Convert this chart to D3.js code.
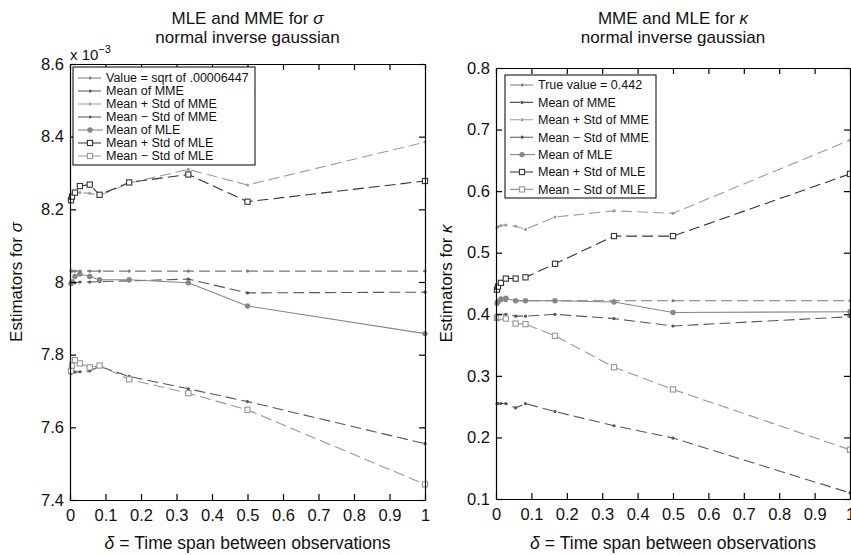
<!DOCTYPE html>
<html>
<head>
<meta charset="utf-8">
<script src="https://cdn.jsdelivr.net/npm/d3@7"></script>
<style>
body { margin: 0; background: #fff; }
svg { font-family: "Liberation Sans", Arial, sans-serif; }
</style>
</head>
<body>
<svg id="fig" width="851" height="555"></svg>
<script>
// time spans (in years, 360 day basis)
const deltas = [1/360, 2/360, 5/360, 10/360, 20/360, 30/360, 60/360, 120/360, 180/360, 1];
const xTicks = [0, 0.1, 0.2, 0.3, 0.4, 0.5, 0.6, 0.7, 0.8, 0.9, 1];

// sigma panel (values x 10^-3)
const sigmaTrue   = [8.03, 8.03, 8.03, 8.03, 8.03, 8.03, 8.03, 8.03, 8.03, 8.03];
const sigmaMME    = [7.995, 7.996, 7.998, 8.0, 8.0, 8.001, 8.003, 8.008, 7.970, 7.972];
const sigmaMMEup  = [8.228, 8.236, 8.244, 8.246, 8.244, 8.238, 8.272, 8.310, 8.267, 8.385];
const sigmaMMElo  = [7.748, 7.750, 7.752, 7.753, 7.755, 7.768, 7.740, 7.706, 7.671, 7.555];
const sigmaMLE    = [7.996, 8.0, 8.015, 8.022, 8.015, 8.006, 8.006, 7.998, 7.934, 7.858];
const sigmaMLEup  = [8.225, 8.235, 8.246, 8.264, 8.268, 8.240, 8.274, 8.296, 8.221, 8.278];
const sigmaMLElo  = [7.755, 7.770, 7.785, 7.776, 7.765, 7.770, 7.732, 7.694, 7.648, 7.443];
const sigmaTicks  = [7.4, 7.6, 7.8, 8, 8.2, 8.4, 8.6];

// kappa panel
const kappaTrue   = [0.422, 0.422, 0.422, 0.422, 0.422, 0.422, 0.422, 0.422, 0.422, 0.422];
const kappaMME    = [0.395, 0.396, 0.398, 0.400, 0.397, 0.397, 0.400, 0.393, 0.381, 0.396];
const kappaMMEup  = [0.541, 0.542, 0.544, 0.545, 0.543, 0.538, 0.558, 0.568, 0.564, 0.683];
const kappaMMElo  = [0.255, 0.255, 0.255, 0.255, 0.248, 0.255, 0.242, 0.219, 0.199, 0.110];
const kappaMLE    = [0.418, 0.420, 0.425, 0.426, 0.422, 0.422, 0.422, 0.420, 0.403, 0.404];
const kappaMLEup  = [0.440, 0.445, 0.451, 0.458, 0.458, 0.460, 0.482, 0.527, 0.527, 0.628];
const kappaMLElo  = [0.394, 0.396, 0.396, 0.393, 0.385, 0.384, 0.365, 0.314, 0.278, 0.180];
const kappaTicks  = [0.1, 0.2, 0.3, 0.4, 0.5, 0.6, 0.7, 0.8];

const sigmaLegend = ["Value = sqrt of .00006447", "Mean of MME", "Mean + Std of MME", "Mean \u2212 Std of MME",
                     "Mean of MLE", "Mean + Std of MLE", "Mean \u2212 Std of MLE"];
const kappaLegend = ["True value = 0.442", "Mean of MME", "Mean + Std of MME", "Mean \u2212 Std of MME",
                     "Mean of MLE", "Mean + Std of MLE", "Mean \u2212 Std of MLE"];

// line styles, same order as the legends
const styles = [
    {color: "#7a7a7a", dash: true,  mark: "dot"},
    {color: "#555555", dash: true,  mark: "dot"},
    {color: "#9c9c9c", dash: true,  mark: "dot"},
    {color: "#555555", dash: true,  mark: "dot"},
    {color: "#878787", dash: false, mark: "circle"},
    {color: "#333333", dash: true,  mark: "square"},
    {color: "#979797", dash: true,  mark: "square"}
];

const svg = d3.select("#fig");

function drawMarker(g, kind, color, cx, cy) {
    if (kind === "dot") {
        g.append("circle").attr("cx", cx).attr("cy", cy).attr("r", 1.6).attr("fill", color);
    } else if (kind === "circle") {
        g.append("circle").attr("cx", cx).attr("cy", cy).attr("r", 2.7).attr("fill", color);
    } else {
        g.append("rect").attr("x", cx - 2.6).attr("y", cy - 2.6).attr("width", 5.2).attr("height", 5.2)
            .attr("fill", "white").attr("stroke", color).attr("stroke-width", 1.1);
    }
}

function panel(cfg) {
    const x = d3.scaleLinear().domain([0, 1]).range([cfg.left, cfg.right]);
    const y = d3.scaleLinear().domain(cfg.yDomain).range([cfg.bottom, cfg.top]);
    const g = svg.append("g");

    const line = d3.line().x(d => x(d[0])).y(d => y(d[1]));

    cfg.series.forEach((vals, i) => {
        const st = styles[i];
        const pts = deltas.map((d, j) => [d, vals[j]]);
        g.append("path").datum(pts)
            .attr("d", line)
            .attr("fill", "none")
            .attr("stroke", st.color)
            .attr("stroke-width", 1.1)
            .attr("stroke-dasharray", st.dash ? "11,5" : null);
        const mg = g.append("g");
        pts.forEach(p => drawMarker(mg, st.mark, st.color, x(p[0]), y(p[1])));
    });

    // axes with inward ticks on all four sides
    const fmt = d3.format("~g");
    const axes = [
        {ax: d3.axisBottom(x).tickValues(xTicks).tickFormat(fmt).tickPadding(9), t: `translate(0,${cfg.bottom})`},
        {ax: d3.axisTop(x).tickValues(xTicks).tickFormat(""), t: `translate(0,${cfg.top})`},
        {ax: d3.axisLeft(y).tickValues(cfg.yTicks).tickFormat(fmt).tickPadding(6), t: `translate(${cfg.left},0)`},
        {ax: d3.axisRight(y).tickValues(cfg.yTicks).tickFormat(""), t: `translate(${cfg.right},0)`}
    ];
    axes.forEach(a => {
        const ag = g.append("g").attr("transform", a.t)
            .call(a.ax.tickSizeInner(-6).tickSizeOuter(0));
        ag.select(".domain").attr("stroke", "#000").attr("stroke-width", 1.2);
        ag.selectAll(".tick line").attr("stroke", "#000").attr("stroke-width", 1.2);
        ag.selectAll(".tick text").attr("font-size", 16.5).attr("fill", "#111")
            .attr("font-family", "Liberation Sans, Arial, sans-serif");
    });

    // titles
    const cx = (cfg.left + cfg.right) / 2;
    const t1 = g.append("text").attr("x", cx).attr("y", 24).attr("text-anchor", "middle")
        .attr("font-size", 17).attr("fill", "#111");
    t1.append("tspan").text(cfg.title + " ");
    t1.append("tspan").attr("font-style", "italic").text(cfg.sym);
    g.append("text").attr("x", cx).attr("y", 43).attr("text-anchor", "middle")
        .attr("font-size", 17).attr("fill", "#111").text("normal inverse gaussian");

    // y label
    const yl = g.append("text")
        .attr("transform", `translate(${cfg.yLabelX},${(cfg.top + cfg.bottom) / 2}) rotate(-90)`)
        .attr("text-anchor", "middle").attr("font-size", 17).attr("fill", "#111");
    yl.append("tspan").text("Estimators for ");
    yl.append("tspan").attr("font-style", "italic").text(cfg.sym);

    // x label
    const xl = g.append("text").attr("x", cx).attr("y", 549).attr("text-anchor", "middle")
        .attr("font-size", 17.5).attr("fill", "#111");
    xl.append("tspan").attr("font-style", "italic").text("\u03b4");
    xl.append("tspan").text(" = Time span between observations");

    // legend
    const lg = g.append("g");
    const lb = cfg.legendBox;
    lg.append("rect").attr("x", lb.x).attr("y", lb.y).attr("width", lb.w).attr("height", lb.h)
        .attr("fill", "white").attr("stroke", "#000").attr("stroke-width", 1);
    cfg.legend.forEach((name, i) => {
        const st = styles[i];
        const yy = lb.y + lb.first + i * lb.step;
        const sx = lb.x + 5;
        lg.append("line").attr("x1", sx).attr("x2", sx + 25).attr("y1", yy).attr("y2", yy)
            .attr("stroke", st.color).attr("stroke-width", 1.1)
            .attr("stroke-dasharray", st.dash ? "10,3" : null);
        drawMarker(lg, st.mark, st.color, sx + 12, yy);
        lg.append("text").attr("x", sx + 28).attr("y", yy).attr("dy", "0.35em")
            .attr("font-size", 12.5).attr("fill", "#111").text(name);
    });

    return g;
}

panel({
    left: 70, right: 425, top: 64, bottom: 500,
    yDomain: [7.4, 8.6], yTicks: sigmaTicks,
    series: [sigmaTrue, sigmaMME, sigmaMMEup, sigmaMMElo, sigmaMLE, sigmaMLEup, sigmaMLElo],
    title: "MLE and MME for", sym: "\u03c3", yLabelX: 22,
    legend: sigmaLegend,
    legendBox: {x: 73, y: 67, w: 182, h: 98, first: 11, step: 13}
});

// exponent note on the sigma axis
const ex = svg.append("text").attr("x", 70).attr("y", 60).attr("font-size", 15).attr("fill", "#111");
ex.append("tspan").text("x 10");
ex.append("tspan").attr("dy", -7).attr("font-size", 11).text("\u22123");

panel({
    left: 496, right: 850, top: 68, bottom: 499,
    yDomain: [0.1, 0.8], yTicks: kappaTicks,
    series: [kappaTrue, kappaMME, kappaMMEup, kappaMMElo, kappaMLE, kappaMLEup, kappaMLElo],
    title: "MME and MLE for", sym: "\u03ba", yLabelX: 452,
    legend: kappaLegend,
    legendBox: {x: 505, y: 75, w: 151, h: 123, first: 10, step: 17.4}
});
</script>
</body>
</html>
